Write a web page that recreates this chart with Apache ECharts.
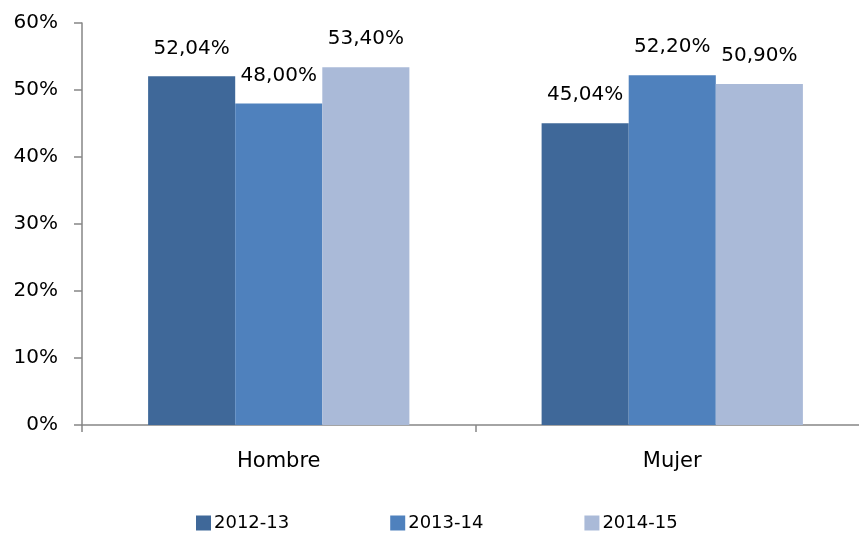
<!DOCTYPE html>
<html>
<head>
<meta charset="utf-8">
<script src="https://cdn.jsdelivr.net/npm/echarts@6/dist/echarts.min.js"></script>
<style>
  html, body { margin: 0; padding: 0; background: #fff; overflow: hidden; }
  #chart { width: 869px; height: 534px; }
</style>
</head>
<body>
<div id="chart"></div>
<script>
const categories = ['Hombre', 'Mujer']
const seriesNames = ['2012-13', '2013-14', '2014-15']
const values2012 = [52.04, 45.04]
const values2013 = [48.00, 52.20]
const values2014 = [53.40, 50.90]
const colors = ['#3F6899', '#4F81BD', '#AABAD8']

const chart = echarts.init(document.getElementById('chart'))
const font = 'DejaVu Sans'

const fmt = v => v.toFixed(2).replace('.', ',') + '%'

const makeSeries = (name, data, color) => ({
  name: name,
  type: 'bar',
  data: data,
  barGap: 0,
  barCategoryGap: '33.6%',
  itemStyle: { color: color },
  label: {
    show: true,
    position: 'top',
    distance: 18,
    color: '#000',
    fontFamily: font,
    fontSize: 20,
    formatter: p => fmt(p.value)
  }
})

const option = {
  backgroundColor: '#fff',
  animation: false,
  grid: { left: 82, top: 23, right: 0, bottom: 109, containLabel: false },
  legend: {
    left: 196,
    top: 514,
    padding: 0,
    itemWidth: 15,
    itemHeight: 15,
    itemGap: 101,
    icon: 'rect',
    textStyle: { fontFamily: font, fontSize: 18, color: '#000', padding: [0, 0, 0, -2] },
    data: seriesNames
  },
  xAxis: {
    type: 'category',
    data: categories,
    axisLine: { lineStyle: { color: '#868686', width: 1.5 } },
    axisTick: { show: true, length: 7, lineStyle: { color: '#868686', width: 1.5 } },
    axisLabel: { color: '#000', fontFamily: font, fontSize: 21, margin: 26 }
  },
  yAxis: {
    type: 'value',
    min: 0,
    max: 60,
    interval: 10,
    splitLine: { show: false },
    axisLine: { show: true, lineStyle: { color: '#868686', width: 1.5 } },
    axisTick: { show: true, length: 8, lineStyle: { color: '#868686', width: 1.5 } },
    axisLabel: { color: '#000', fontFamily: font, fontSize: 20, margin: 24, formatter: '{value}%' }
  },
  series: [
    makeSeries(seriesNames[0], values2012, colors[0]),
    makeSeries(seriesNames[1], values2013, colors[1]),
    makeSeries(seriesNames[2], values2014, colors[2])
  ]
}

chart.setOption(option)
</script>
</body>
</html>
